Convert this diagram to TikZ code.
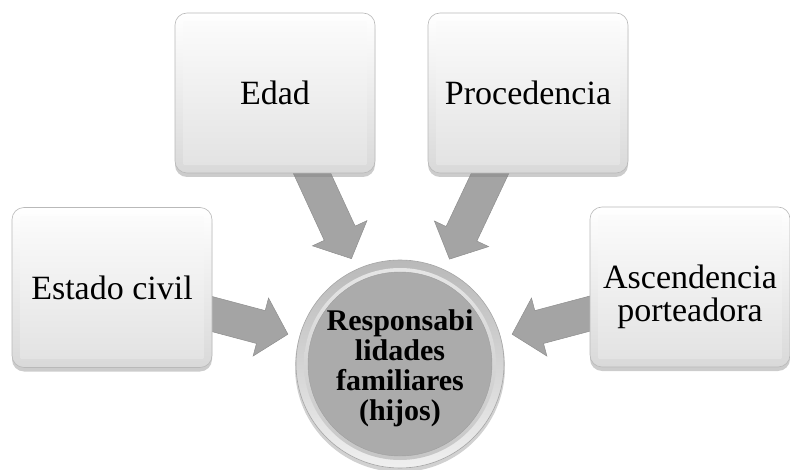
\documentclass[tikz,border=0pt]{standalone}
\usepackage{fontspec}
\setmainfont{Liberation Serif}
\usetikzlibrary{shadows,calc}
\definecolor{arrowgray}{HTML}{A4A4A4}
\definecolor{arrowedge}{HTML}{8E8E8E}
\definecolor{diskgray}{HTML}{ABABAB}
\tikzset{
  box/.style={rounded corners=12pt, minimum width=200pt, minimum height=160pt,
    draw=gray!55, line width=0.6pt, top color=white, bottom color=gray!30,
    drop shadow={shadow xshift=0pt, shadow yshift=-4pt, opacity=0.4},
    inner sep=0pt},
  boxtext/.style={font=\fontsize{34}{33}\selectfont, align=center},
  bevel/.style={top color=white!97!gray, bottom color=gray!22, draw=none},
  blockarrowfill/.style={fill=arrowgray, draw=arrowedge, line width=0.5pt, line join=miter},
  hub/.style={circle, minimum size=208pt, inner sep=0pt,
    font=\fontsize{30}{30}\selectfont\bfseries, align=center, text=black},
}
\newcommand\blockarrow[2]{%
  \coordinate (#1#2b) at ($(#2)!28pt!(#1)$);
  \path[blockarrowfill]
    ($(#1)!17pt!90:(#1#2b)$) -- ($(#1#2b)!17pt!-90:(#1)$) --
    ($(#1#2b)!30pt!-90:(#1)$) -- (#2) --
    ($(#1#2b)!30pt!90:(#1)$) -- ($(#1#2b)!17pt!90:(#1)$) --
    ($(#1)!17pt!-90:(#1#2b)$) -- cycle;}
\newcommand\bevelbox[1]{%
  \path[bevel] ($(#1.north west)+(9pt,-9pt)$) rectangle ($(#1.south east)+(-9pt,9pt)$);}
\begin{document}
\begin{tikzpicture}[x=1pt,y=-1pt]
\useasboundingbox (0,0) rectangle (790,470);
% anchor coordinates
\coordinate (c0) at (400,364);
\coordinate (ec0) at (112,287.5);
\coordinate (ed0) at (275,93);
\coordinate (pr0) at (528,93);
\coordinate (as0) at (690,287);
% arrow tips
\coordinate (ectip) at ($(c0)!116pt!(ec0)$);
\coordinate (edtip) at ($(c0)!116pt!(ed0)$);
\coordinate (prtip) at ($(c0)!116pt!(pr0)$);
\coordinate (astip) at ($(c0)!116pt!(as0)$);
% arrows
\blockarrow{ec0}{ectip}
\blockarrow{ed0}{edtip}
\blockarrow{pr0}{prtip}
\blockarrow{as0}{astip}
% hub circle
\path[fill=black, opacity=0.18] ($(c0)+(0,3)$) circle (105pt);
\path[top color=gray!55, bottom color=gray!12, draw=gray!70, line width=0.6pt] (c0) circle (104pt);
\path[top color=gray!20, bottom color=gray!45] (c0) circle (96pt);
\path[fill=diskgray, draw=gray!75, line width=0.4pt] (c0) circle (92pt);
\node[hub] (c) at ($(c0)+(0,4)$) {Responsabi\\lidades\\familiares\\(hijos)};
% boxes
\node[box] (ec) at (ec0) {};
\bevelbox{ec}
\node[boxtext] (ect) at (ec) {Estado civil};
\node[box] (ed) at (ed0) {};
\bevelbox{ed}
\node[boxtext] (edt) at (ed) {Edad};
\node[box] (pr) at (pr0) {};
\bevelbox{pr}
\node[boxtext] (prt) at (pr) {Procedencia};
\node[box] (as) at (as0) {};
\bevelbox{as}
\node[boxtext] (ast) at ($(as)+(0,10)$) {Ascendencia\\porteadora};
\end{tikzpicture}
\end{document}
